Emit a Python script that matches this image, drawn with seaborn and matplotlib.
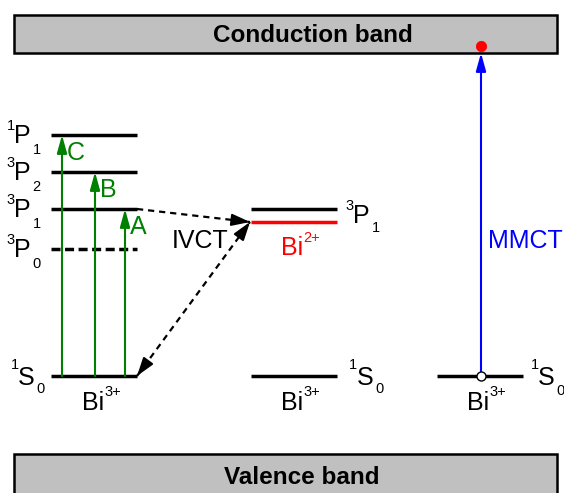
import matplotlib
matplotlib.use("Agg")
import matplotlib.pyplot as plt
import seaborn as sns
import pandas as pd
from matplotlib.patches import Rectangle

sns.set_style("white")
plt.rcParams["font.family"] = ["Liberation Sans", "DejaVu Sans"]
plt.rcParams["text.color"] = "black"

# energieniveaus (bild-einheiten, y nach unten)
left_pre = ["1", "3", "3", "3", "1"]
left_main = ["P", "P", "P", "P", "S"]
left_sub = ["1", "2", "1", "0", "0"]
left_y = [135, 172, 209, 249, 376]
left_dashed = [False, False, False, True, False]

# absorptionen A, B, C (grün)
trans_names = ["C", "B", "A"]
trans_x = [62, 95, 125]
trans_top = [135, 172, 209]

# mittlere spalte (Bi2+)
mid_3p1 = 209
mid_bi2 = 222
mid_s0 = 376

# MMCT
mmct_x = 481
cb_bottom = 53

# spalten
col_left = (51, 137)
col_mid = (251, 337)
col_right = (437, 523)

FS = 18
FS_SMALL = 10.5

fig = plt.figure(figsize=(5.64, 4.93), dpi=100)
ax = fig.add_axes([0, 0, 1, 1])
ax.set_xlim(0, 564)
ax.set_ylim(493, 0)
ax.axis("off")
rend = fig.canvas.get_renderer()


def term(x, yc, main, pre=None, sup=None, sub=None, color="black", dsup=-8, dsub=16):
    # hauptbuchstabe + kleine hoch/tief zahlen
    t = ax.text(x, yc + 9, main, fontsize=FS, ha="left", va="baseline", color=color)
    bb = t.get_window_extent(rend).transformed(ax.transData.inverted())
    if pre:
        ax.text(bb.x0 + 0.5, yc + dsup, pre, fontsize=FS_SMALL, ha="right", va="center", color=color)
    if sup:
        ax.text(bb.x1 + 0.5, yc + dsup, sup, fontsize=FS_SMALL, ha="left", va="center", color=color)
    if sub:
        ax.text(bb.x1 + 2, yc + dsub, sub, fontsize=FS_SMALL, ha="left", va="center", color=color)


def arrow(x0, y0, x1, y1, color, lw=1.5, hw=0.15, hl=0.54):
    ax.annotate("", xy=(x1, y1), xytext=(x0, y0),
                arrowprops=dict(arrowstyle=f"-|>,head_length={hl},head_width={hw}",
                                color=color, lw=lw, shrinkA=0, shrinkB=0, mutation_scale=20))


# baender
ax.add_patch(Rectangle((14, 15), 543, cb_bottom - 15, facecolor="#c0c0c0", edgecolor="black", lw=1.8))
ax.add_patch(Rectangle((14, 454), 543, 50, facecolor="#c0c0c0", edgecolor="black", lw=1.8, clip_on=False))
ax.text(313, 35, "Conduction band", ha="center", va="center", fontsize=17.5, fontweight="bold")
ax.text(302, 477, "Valence band", ha="center", va="center", fontsize=17.5, fontweight="bold")

# linke niveaus Bi3+
lv = pd.DataFrame({"pre": left_pre, "main": left_main, "sub": left_sub,
                   "y": left_y, "dashed": left_dashed})
for _, r in lv.iterrows():
    ls = (0, (2.6, 1.3)) if r["dashed"] else "-"
    ax.hlines(r["y"], *col_left, color="black", lw=2.5, linestyle=ls)
    if r["main"] == "S":
        term(18, r["y"], r["main"], pre=r["pre"], sub=r["sub"], dsup=-11, dsub=13)
    else:
        term(14, r["y"] - 1, r["main"], pre=r["pre"], sub=r["sub"])

# grüne pfeile
for name, x, top in zip(trans_names, trans_x, trans_top):
    arrow(x, left_y[-1], x, top, "green")
    ax.text(x + 5, top + 18, name, color="green", fontsize=FS, ha="left", va="center")

# mittlere spalte
ax.hlines(mid_3p1, *col_mid, color="black", lw=2.5)
ax.hlines(mid_bi2, *col_mid, color="red", lw=2.5)
ax.hlines(mid_s0, *col_mid, color="black", lw=2.5)
term(353, mid_3p1 + 5, "P", pre="3", sub="1", dsub=14)
term(357, mid_s0, "S", pre="1", sub="0", dsup=-11, dsub=13)
term(281, 246, "Bi", sup="2+", color="red")

# IVCT gestrichelt
ivct_start = [(col_left[1], left_y[2]), (col_left[1], left_y[-1])]
ivct_end = (col_mid[0] - 1, mid_bi2)
for x0, y0 in ivct_start:
    x1, y1 = ivct_end
    ax.plot([x0, x1], [y0, y1], color="black", lw=1.6, linestyle=(0, (2.8, 2.2)))
    dx, dy = x1 - x0, y1 - y0
    n = (dx ** 2 + dy ** 2) ** 0.5
    arrow(x1 - dx / n * 14, y1 - dy / n * 14, x1, y1, "black", hw=0.18, hl=0.55)
# unterer pfeil mit zwei spitzen
x0, y0 = ivct_start[1]
x1, y1 = ivct_end
dx, dy = x0 - x1, y0 - y1
n = (dx ** 2 + dy ** 2) ** 0.5
arrow(x0 - dx / n * 14, y0 - dy / n * 14, x0, y0, "black", hw=0.18, hl=0.55)
ax.text(200, 241, "IVCT", ha="center", va="center", fontsize=FS)

# rechte spalte, MMCT
ax.hlines(mid_s0, *col_right, color="black", lw=2.5)
arrow(mmct_x, mid_s0, mmct_x, cb_bottom, "blue")
ax.text(488, 241, "MMCT", color="blue", ha="left", va="center", fontsize=FS)
term(538, mid_s0, "S", pre="1", sub="0", dsup=-11, dsub=15)

dots = pd.DataFrame({"x": [mmct_x], "y": [46]})
sns.scatterplot(data=dots, x="x", y="y", color="red", s=55, edgecolor="red", ax=ax, zorder=5)
ax.scatter([mmct_x], [mid_s0], s=42, facecolor="white", edgecolor="black", lw=1, zorder=5)

# Bi3+ beschriftungen
for xb in [82, 281, 467]:
    term(xb, 401, "Bi", sup="3+", dsup=-9)

ax.set_xlim(0, 564)
ax.set_ylim(493, 0)
ax.axis("off")
fig.savefig("out.png", dpi=100)
